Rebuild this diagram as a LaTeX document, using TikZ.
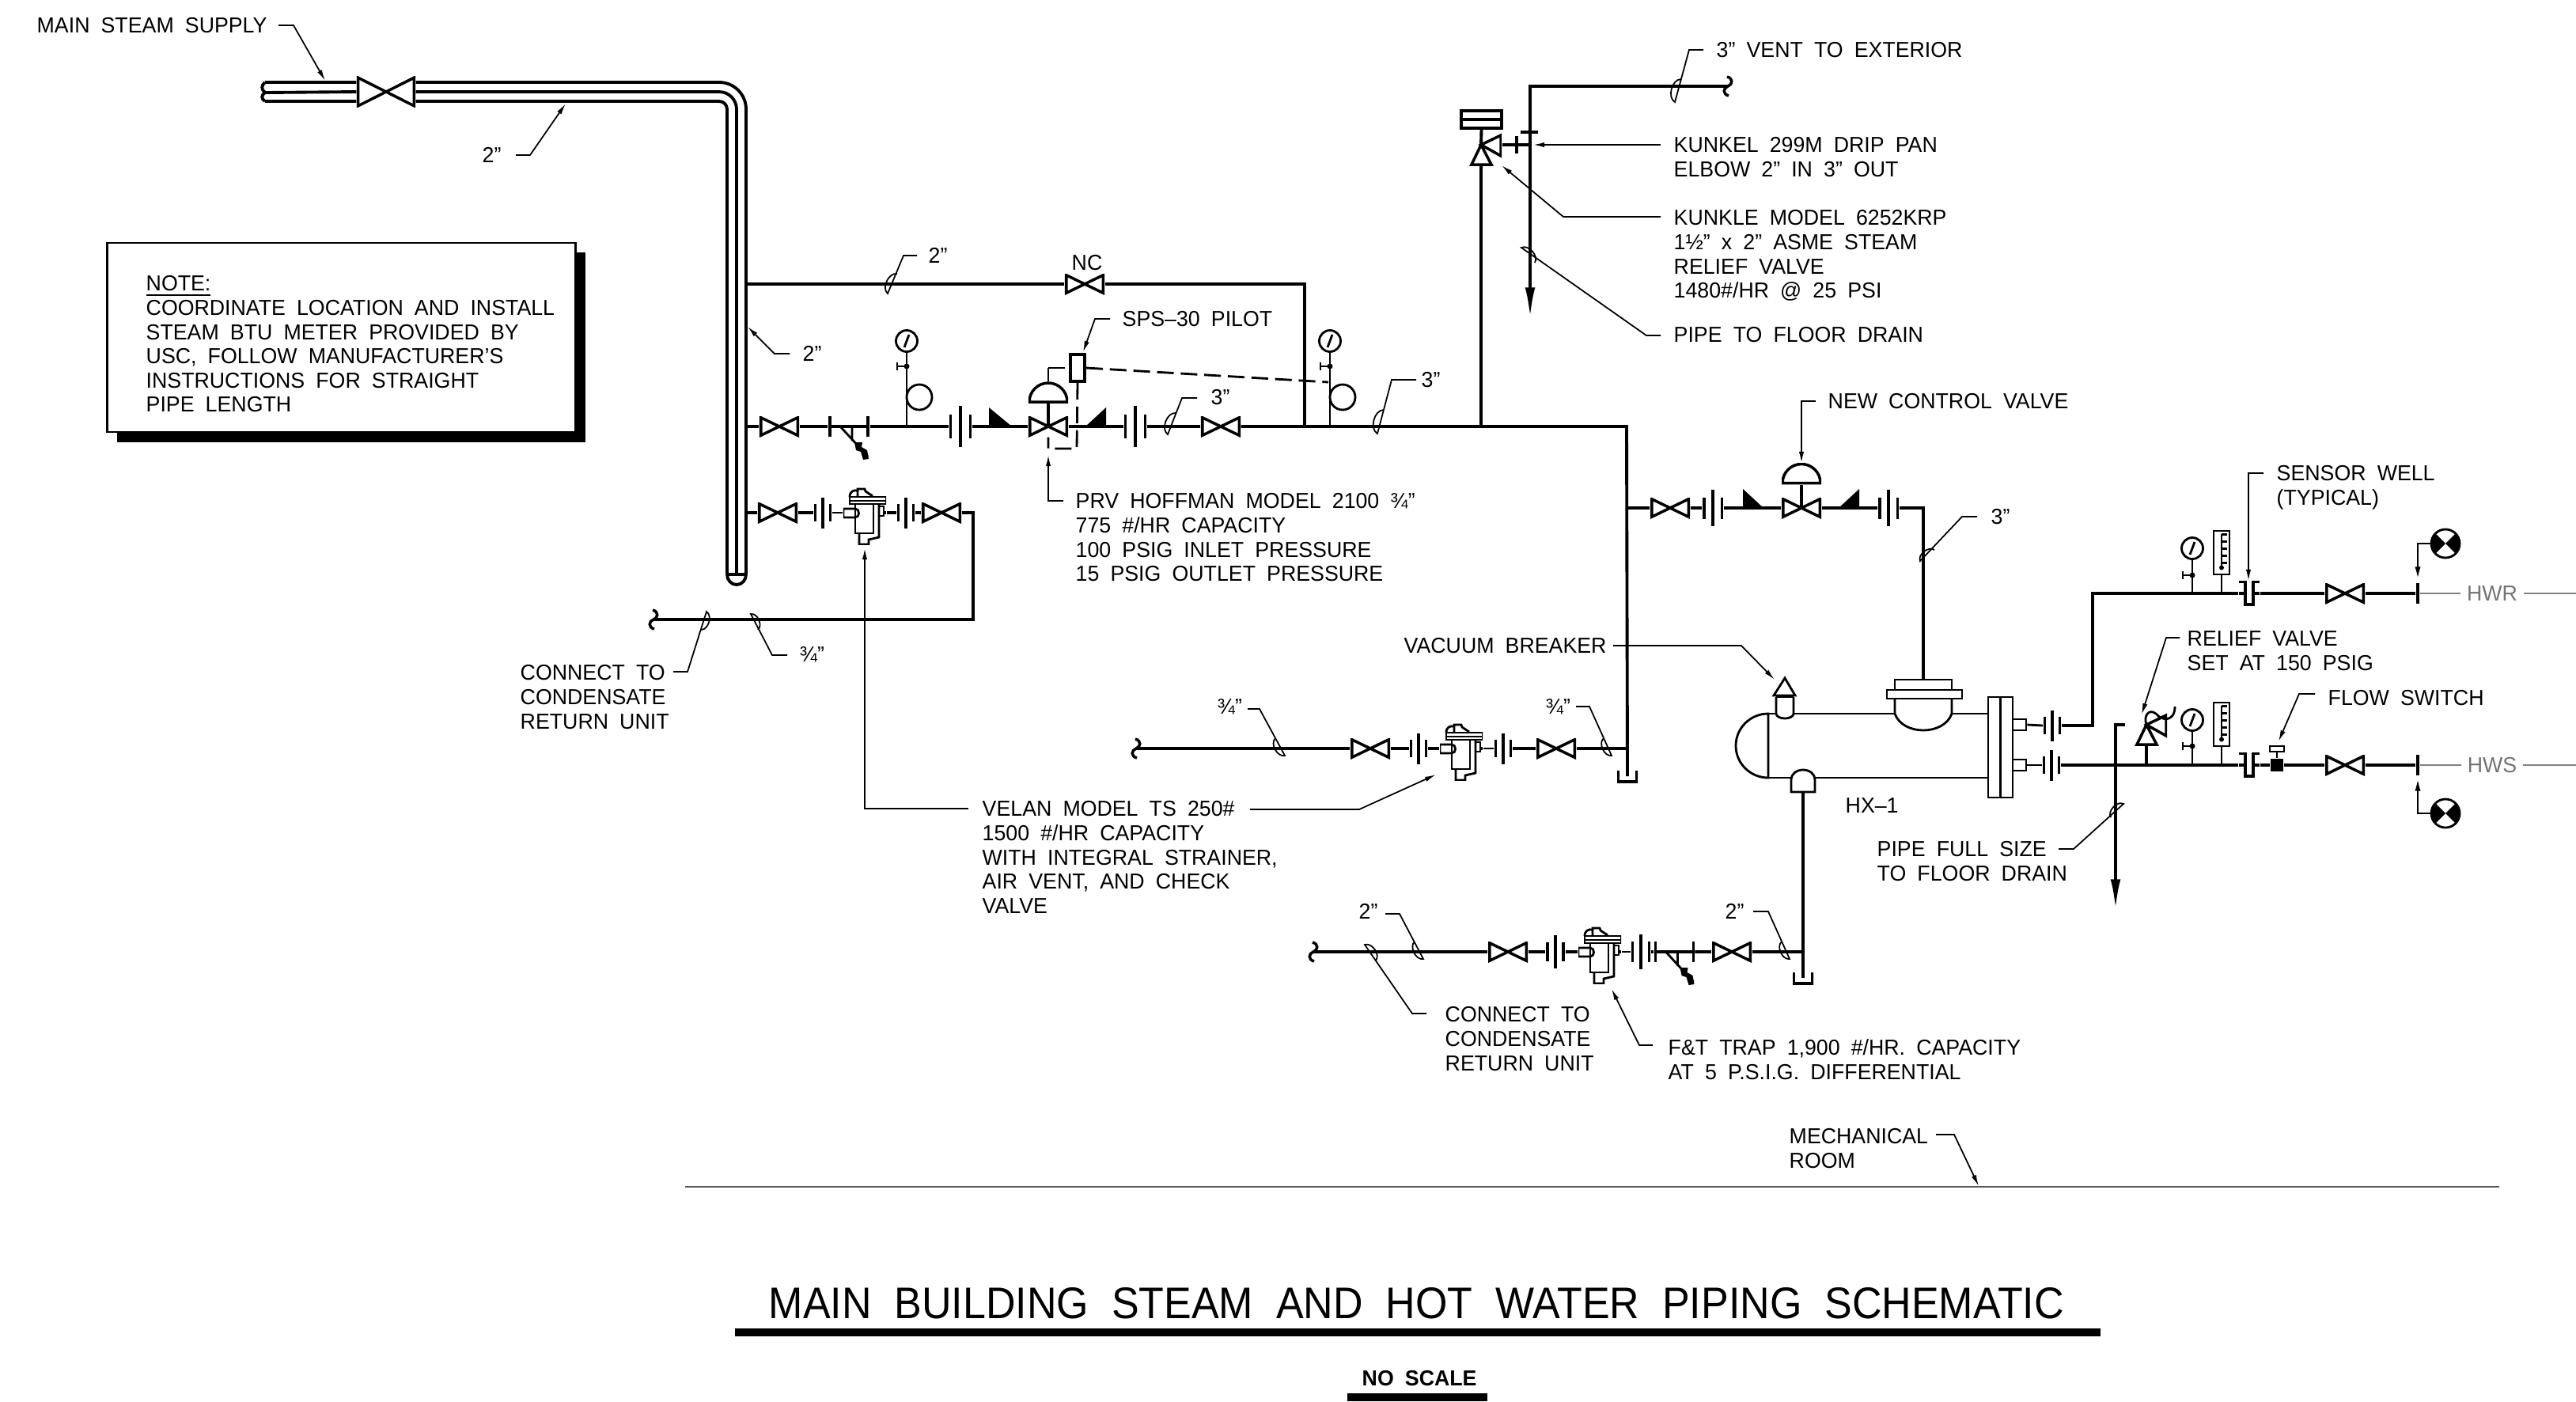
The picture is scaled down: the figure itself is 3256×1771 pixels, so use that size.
\documentclass[tikz,border=0pt]{standalone}
\usepackage{fontspec}
\setmainfont[FakeStretch=.975,WordSpace=1.9]{Liberation Sans}
\newfontfamily\titlefont[FakeStretch=.93,WordSpace=2]{Liberation Sans}
\usetikzlibrary{arrows.meta}
\tikzstyle{pipe}=[line width=1.1pt, line join=miter]
\tikzstyle{stem}=[line width=.8pt]
\tikzstyle{leader}=[line width=.5pt]
\tikzstyle{leadarrow}=[leader, -{Latex[length=4pt,width=1.8pt]}]
\tikzstyle{drain}=[pipe, -{Latex[length=11pt,width=3.6pt]}]
\tikzstyle{ctrl}=[stem, dash pattern=on 6pt off 2.5pt]
\tikzstyle{grayline}=[line width=.6pt, black!50]
\tikzstyle{lbl}=[anchor=north west, inner sep=0, align=left, font=\fontsize{7.8pt}{8.7pt}\selectfont]
\tikzstyle{valve}=[rectangle, inner sep=0, minimum width=.5cm, minimum height=.26cm,
    path picture={
        \draw[line width=1pt]
        ([shift={(.5pt,.5pt)}]path picture bounding box.south west) --
        ([shift={(-.5pt,-.5pt)}]path picture bounding box.north east) --
        ([shift={(-.5pt,.5pt)}]path picture bounding box.south east) --
        ([shift={(.5pt,-.5pt)}]path picture bounding box.north west) -- cycle;
    }
]
\tikzstyle{union}[1]=[rectangle, inner sep=0, minimum width=(25*#1+4)*.01cm, minimum height=52*#1*.01cm,
    path picture={
        \draw[line width=1pt, shift={(path picture bounding box.center)}]
        (-12.5*#1,-15*#1) -- (-12.5*#1,15*#1) (0,-26*#1) -- (0,26*#1) (12.5*#1,-15*#1) -- (12.5*#1,15*#1);
    }
]
\tikzstyle{trap}[1]=[rectangle, inner sep=0, minimum width=.54cm, minimum height=.8cm,
    path picture={
        \begin{scope}[line width=.8pt, shift={(path picture bounding box.center)}, xscale=#1]
        \draw (-27,-5) -- (-12,-5) .. controls (-6,-5) and (-6,6) .. (-12,6) -- (-27,6) -- cycle;
        \draw (-12,-11) -- (-12,26) -- (11,26) -- (11,-11);
        \draw (18,-11) -- (18,31) -- (5,34) -- (5,40) -- (-7,40) -- (-7,27);
        \draw (18,-8) -- (24,-8) -- (24,4) -- (18,4);
        \draw (-19,-20) rectangle (27,-11) (-19,-15) -- (27,-15);
        \draw (-19,-20) .. controls (-19,-27) and (-14,-29) .. (-9,-28) -- (-9,-20);
        \draw (-9,-28) -- (-9,-30) -- (0,-30) -- (1,-27) -- (10,-21);
        \draw[line width=1.1pt] (24,0) -- (27,0);
        \end{scope}
    }
]
\tikzstyle{strainer}[1]=[rectangle, inner sep=0, minimum width=.52cm, minimum height=.9cm,
    path picture={
        \begin{scope}[shift={(path picture bounding box.center)}, xscale=#1]
        \draw[line width=1pt] (-24,-13) -- (-24,13) (24,-13) -- (24,13);
        \draw[line width=1.1pt] (-26,0) -- (26,0);
        \draw[line width=.8pt] (-11,0) -- (24,38) (4,0) -- (4,18);
        \fill (7,20) -- (17,20) -- (16,26) -- (23,30) -- (25,41) -- (18,42) -- (15,32) -- (9,30) -- cycle;
        \end{scope}
    }
]
\tikzstyle{relief}[1]=[rectangle, inner sep=0, minimum width=.52cm, minimum height=.52cm,
    path picture={
        \draw[line width=1pt, line join=miter, shift={(path picture bounding box.center)}, xscale=#1]
        (0,0) -- (25,-12) -- (25,14) -- cycle (0,0) -- (-12,25) -- (13,25) -- cycle;
    }
]
\tikzstyle{dome}=[rectangle, inner sep=0, minimum width=.5cm, minimum height=.27cm,
    path picture={
        \draw[line width=1pt, shift={(path picture bounding box.center)}]
        (-24,12) arc (180:360:24) -- cycle;
    }
]
\tikzstyle{dial}=[circle, draw, stem, inner sep=0, minimum size=.27cm,
    path picture={
        \draw[line width=.8pt, shift={(path picture bounding box.center)}] (-3,8) -- (3,-8);
    }
]
\tikzstyle{cock}=[rectangle, inner sep=0, minimum width=.28cm, minimum height=.14cm,
    path picture={
        \draw[line width=.8pt, shift={(path picture bounding box.center)}] (-12,0) -- (0,0) (-12,-5) -- (-12,5);
        \fill[shift={(path picture bounding box.center)}] (0,0) circle (3.5);
    }
]
\tikzstyle{siphon}=[circle, draw, stem, inner sep=0, minimum size=.32cm]
\tikzstyle{thermo}=[rectangle, draw, stem, inner sep=0, minimum width=.2cm, minimum height=.55cm,
    path picture={
        \begin{scope}[line width=.7pt, shift={(path picture bounding box.center)}]
        \draw (0,-24) -- (0,17) (0,-23) -- (7,-23) (0,-14) -- (7,-14) (0,-5) -- (7,-5) (0,4) -- (7,4) (0,13) -- (7,13);
        \fill (0,19) circle (3);
        \end{scope}
    }
]
\tikzstyle{well}=[rectangle, inner sep=0, minimum width=.26cm, minimum height=.32cm,
    path picture={
        \draw[line width=1pt, shift={(path picture bounding box.center)}]
        (-13,-15) -- (-5,-15) -- (-5,14) -- (5,14) -- (5,-15) -- (13,-15)
        (-13,0) -- (-5,0) (5,0) -- (13,0);
    }
]
\tikzstyle{funnel}=[rectangle, inner sep=0, minimum width=.26cm, minimum height=.16cm,
    path picture={
        \draw[line width=1pt, shift={(path picture bounding box.center)}] (-12,-7) -- (-12,7) -- (12,7) -- (12,-7);
    }
]
\tikzstyle{pipebreak}=[rectangle, inner sep=0, minimum width=.18cm, minimum height=.28cm,
    path picture={
        \draw[line width=1pt, shift={(path picture bounding box.center)}]
        (-1,-12) .. controls (7,-10) and (6,-2) .. (0,0) .. controls (-6,2) and (-7,10) .. (1,12);
    }
]
\tikzstyle{balance}=[circle, draw, stem, inner sep=0, minimum size=.36cm,
    path picture={
        \fill[shift={(path picture bounding box.center)}] (0,0) -- (-18,-18) -- (-18,18) -- cycle (0,0) -- (18,-18) -- (18,18) -- cycle;
    }
]
\tikzstyle{endbar}=[rectangle, fill, inner sep=0, minimum width=.04cm, minimum height=.26cm]
\begin{document}
\begin{tikzpicture}[x=.01cm, y=-.01cm]
\useasboundingbox (0,0) rectangle (3256,1771);
\node[valve, minimum width=.74cm, minimum height=.39cm] (v0) at (488,116){};
\draw[pipe](335,104) .. controls (330,108) and (330,113) .. (335,117) .. controls (330,120) and (330,125) .. (335,128);
\draw[pipe](335,104) -- (v0.west |- 335,104) (335,117) -- (v0.west) (335,128) -- (v0.west |- 335,128);
\draw[pipe](v0.east |- 335,104) -- (909,104) arc (270:360:34) -- (943,726);
\draw[pipe](v0.east) -- (909,116) arc (270:360:22) -- (931,726);
\draw[pipe](v0.east |- 335,128) -- (909,128) arc (270:360:10) -- (919,726);
\draw[pipe](919,726) -- (943,726);
\draw[pipe](919,726) arc (180:0:12 and 13);
\coordinate (j0) at (943,359);
\coordinate (j1) at (943,539);
\coordinate (j2) at (943,648);
\node[valve] (v1) at (1371,359){};
\coordinate (j3) at (1649,359);
\coordinate (j4) at (1649,539);
\draw[pipe](j0) -- (v1.west);
\draw[pipe](v1.east) -- (j3) -- (j4);
\node[valve] (v2) at (985,539){};
\node[strainer=1] (st0) at (1073,539){};
\node[union=1] (u0) at (1214,539){};
\node[valve] (v3) at (1325,539){};
\node[union=1] (u1) at (1435,539){};
\node[valve] (v4) at (1543,539){};
\coordinate (j5) at (1872,539);
\coordinate (j6) at (2056,539);
\node[funnel] (f0) at (2057,981){};
\draw[pipe](j1) -- (v2.west);
\draw[pipe](v2.east) -- (st0.west);
\draw[pipe](st0.east) -- (u0.west);
\draw[pipe](u0.east) -- (v3.west);
\draw[pipe](v3.east) -- (u1.west);
\draw[pipe](u1.east) -- (v4.west);
\draw[pipe](v4.east) -- (j6) -- (f0.center);
\fill (1250,515) -- (1250,539) -- (1279,539) -- cycle;
\fill (1398,515) -- (1398,539) -- (1372,539) -- cycle;
\node[dial] (g0) at (1146,431){};
\node[cock] (c0) at (1146,463){};
\node[siphon] (s0) at (1162,502){};
\draw[stem](g0) -- (g0 |- v2);
\node[dial] (g1) at (1681,431){};
\node[cock] (c1) at (1681,463){};
\node[siphon] (s1) at (1697,502){};
\draw[stem](g1) -- (g1 |- v2);
\node[dome] (d0) at (1325,496){};
\draw[pipe](v3.center) -- (d0.south);
\node[rectangle, draw, pipe, inner sep=0, minimum width=.18cm, minimum height=.34cm] (p0) at (1362,465){};
\coordinate (k0) at (1325,465);
\coordinate (k1) at (1679,483);
\coordinate (k2) at (1361,567);
\coordinate (k3) at (1325,567);
\draw[stem](d0.north) -- (k0);
\draw[ctrl](k0) -- (p0.west);
\draw[ctrl](p0.east) -- (k1);
\draw[ctrl](p0.south) -- (k2) -- (k3) -- (v3.south);
\node[relief=1] (rv0) at (1872,183){};
\node[rectangle, draw, pipe, inner sep=0, minimum width=.51cm, minimum height=.22cm] (dc0) at (1872.5,151){};
\draw[pipe](dc0.west) -- (dc0.east);
\draw[pipe](dc0.south) -- (rv0.center);
\draw[pipe](j5) -- (rv0.south);
\node[endbar, minimum height=.22cm] (e2) at (1917,183){};
\coordinate (j8) at (1934,183);
\draw[pipe](rv0.east) -- (j8);
\node[pipebreak] (b0) at (2184,109){};
\coordinate (j9) at (1934,109);
\coordinate (j10) at (1934,402);
\draw[drain](b0.center) -- (j9) -- (j10);
\node[endbar, minimum width=.22cm, minimum height=.04cm] (e3) at (1933,167){};
\node[valve] (v5) at (983,648){};
\node[union=.75] (u2) at (1040,648){};
\node[trap=1] (t0) at (1093,648){};
\node[union=.75] (u3) at (1145,648){};
\node[valve] (v6) at (1190,648){};
\coordinate (j11) at (1230,648);
\coordinate (j12) at (1230,783);
\node[pipebreak] (b1) at (826,783){};
\draw[pipe](j2) -- (v5.west);
\draw[pipe](v5.east) -- (u2.west);
\draw[stem](u2.east) -- (t0.west);
\draw[pipe](t0.east) -- (u3.west);
\draw[pipe](u3.east) -- (v6.west);
\draw[pipe](v6.east) -- (j11) -- (j12) -- (b1.center);
\node[pipebreak] (b2) at (1436,946){};
\node[valve] (v7) at (1732,946){};
\node[union=.75] (u4) at (1793,946){};
\node[trap=-1] (t1) at (1847,946){};
\node[union=.75] (u5) at (1900,946){};
\node[valve] (v8) at (1967,946){};
\coordinate (j13) at (2056,946);
\draw[pipe](b2.center) -- (v7.west);
\draw[pipe](v7.east) -- (u4.west);
\draw[pipe](u4.east) -- (t1.west);
\draw[stem](t1.east) -- (u5.west);
\draw[pipe](u5.east) -- (v8.west);
\draw[pipe](v8.east) -- (j13);
\coordinate (j14) at (2056,642);
\node[valve] (v9) at (2111,642){};
\node[union=.9] (u6) at (2165,642){};
\node[valve] (v10) at (2277,642){};
\node[union=.9] (u7) at (2387,642){};
\coordinate (j15) at (2431,642);
\coordinate (j16) at (2431,859);
\draw[pipe](j14) -- (v9.west);
\draw[pipe](v9.east) -- (u6.west);
\draw[pipe](u6.east) -- (v10.west);
\draw[pipe](v10.east) -- (u7.west);
\draw[pipe](u7.east) -- (j15) -- (j16);
\fill (2203,618) -- (2203,642) -- (2229,642) -- cycle;
\fill (2350,618) -- (2350,642) -- (2324,642) -- cycle;
\node[dome, minimum height=.27cm] (d1) at (2277,598.5){};
\draw[pipe](v10.center) -- (d1.south);
\node[pipebreak] (b3) at (1660,1203){};
\node[valve] (v11) at (1906,1203){};
\node[union=.8] (u8) at (1966,1203){};
\node[trap=-1] (t2) at (2022,1203){};
\node[union=.85] (u9) at (2074,1203){};
\node[strainer=-1] (st1) at (2116.5,1203){};
\node[valve] (v12) at (2189,1203){};
\coordinate (j17) at (2279,1203);
\coordinate (j18) at (2279,1001);
\node[funnel] (f1) at (2279,1236){};
\draw[pipe](b3.center) -- (v11.west);
\draw[pipe](v11.east) -- (u8.west);
\draw[pipe](u8.east) -- (t2.west);
\draw[stem](t2.east) -- (u9.west);
\draw[pipe](u9.east) -- (st1.west);
\draw[pipe](st1.east) -- (v12.west);
\draw[pipe](v12.east) -- (j17);
\draw[pipe](j18) -- (f1.center);
\draw[stem](2235,902) arc (270:90:41 and 40.5) -- cycle;
\draw[stem](2235,902) -- (2245,902) (2267,902) -- (2395,902) (2467,902) -- (2513,902);
\draw[stem](2235,983) -- (2264,983) (2294,983) -- (2513,983);
\draw[stem](2245,881) -- (2245,902) arc (180:0:11 and 6) -- (2267,881);
\draw[stem](2256,857) -- (2242,879) -- (2269,879) -- cycle;
\draw[pipe](2245,880) -- (2267,880);
\node[rectangle, draw, stem, inner sep=0, minimum width=.72cm, minimum height=.13cm] (hx0) at (2431,865.5){};
\node[rectangle, draw, stem, inner sep=0, minimum width=.95cm, minimum height=.11cm] (hx1) at (2432.5,877.5){};
\draw[stem](2395,883) -- (2395,902) .. controls (2405,930) and (2457,930) .. (2467,902) -- (2467,883);
\draw[stem](2264,985) arc (180:360:15 and 12) -- (2294,1001) -- (2264,1001) -- cycle;
\node[rectangle, draw, stem, inner sep=0, minimum width=.31cm, minimum height=1.27cm] (fl) at (2528.5,944.5){};
\draw[stem](fl.north) -- (fl.south);
\node[rectangle, draw, stem, inner sep=0, minimum width=.17cm, minimum height=.14cm] (sb0) at (2552.5,916){};
\node[rectangle, draw, stem, inner sep=0, minimum width=.17cm, minimum height=.14cm] (sb1) at (2552.5,967){};
\node[union=.75] (u10) at (2594,917){};
\node[union=.75] (u11) at (2593,967){};
\draw[stem](sb0.east) -- (u10.west);
\draw[stem](sb1.east) -- (u11.west);
\coordinate (j19) at (2645,917);
\coordinate (j20) at (2645,750);
\node[well] (w0) at (2843,750){};
\node[valve] (v13) at (2964,750){};
\node[endbar] (e0) at (3056,750){};
\draw[pipe](u10.east) -- (j19) -- (j20) -- (w0.west);
\draw[pipe](w0.east) -- (v13.west);
\draw[pipe](v13.east) -- (e0);
\node[well] (w1) at (2843,967){};
\node[rectangle, fill, inner sep=0, minimum width=.16cm, minimum height=.16cm] (fs0) at (2878,967){};
\node[rectangle, draw, stem, inner sep=0, minimum width=.18cm, minimum height=.07cm] (fs1) at (2878,946.5){};
\node[valve] (v14) at (2964,967){};
\node[endbar] (e1) at (3056,967){};
\draw[pipe](u11.east) -- (w1.west);
\draw[pipe](w1.east) -- (fs0.west);
\draw[pipe](fs0.east) -- (v14.west);
\draw[pipe](v14.east) -- (e1);
\draw[stem](fs1) -- (fs0);
\node[relief=-1] (rv1) at (2713,916){};
\coordinate (j21) at (2674,916);
\coordinate (j22) at (2674,1150);
\draw[pipe](rv1.south) -- (rv1.south |- e1);
\draw[drain](rv1.west) -- (j21) -- (j22);
\draw[stem](rv1.center) .. controls (2709,905) and (2716,895) .. (2725,902) .. controls (2733,912) and (2749,912) .. (2749,893);
\node[dial] (g2) at (2771,693){};
\node[cock] (c2) at (2771,727){};
\node[thermo] (m0) at (2808,698.5){};
\draw[stem](g2) -- (g2 |- e0);
\draw[stem](m0) -- (m0 |- e0);
\node[dial] (g3) at (2771,910){};
\node[cock] (c3) at (2771,943){};
\node[thermo] (m1) at (2808,915.5){};
\draw[stem](g3) -- (g3 |- e1);
\draw[stem](m1) -- (m1 |- e1);
\node[balance] (bv0) at (3091,687){};
\node[balance] (bv1) at (3091,1028){};
\coordinate (k4) at (3056,687);
\coordinate (k5) at (3056,734);
\coordinate (k6) at (3056,1028);
\coordinate (k7) at (3056,982);
\draw[stem, -{Latex[length=5pt,width=2pt]}](bv0.west) -- (k4) -- (k5);
\draw[stem, -{Latex[length=5pt,width=2pt]}](bv1.west) -- (k6) -- (k7);
\node[lbl, anchor=center, black!55] (hwr) at (3150,750){HWR};
\node[lbl, anchor=center, black!55] (hws) at (3150,967){HWS};
\coordinate (r0) at (3256,750);
\coordinate (r1) at (3256,967);
\draw[grayline](e0) -- ([xshift=-2pt]hwr.west);
\draw[grayline]([xshift=2pt]hwr.east) -- (r0);
\draw[grayline](e1) -- ([xshift=-2pt]hws.west);
\draw[grayline]([xshift=2pt]hws.east) -- (r1);
\node[rectangle, fill, inner sep=0, minimum width=5.92cm, minimum height=2.4cm] (ns) at (444,439){};
\node[rectangle, draw, stem, fill=white, inner sep=0, minimum width=5.91cm, minimum height=2.39cm] (nb) at (431.5,426.5){};
\node[lbl] (txt0) at (184,348){\underline{NOTE:}\\COORDINATE LOCATION AND INSTALL\\STEAM BTU METER PROVIDED BY\\USC, FOLLOW MANUFACTURER’S\\INSTRUCTIONS FOR STRAIGHT\\PIPE LENGTH};
\node[lbl] (txt1) at (46,22){MAIN STEAM SUPPLY};
\node[lbl] (txt2) at (609,186){2”};
\node[lbl] (txt3) at (1173,313){2”};
\node[lbl] (txt4) at (1354,322){NC};
\node[lbl] (txt5) at (1014,437){2”};
\node[lbl] (txt6) at (1418,393){SPS--30 PILOT};
\node[lbl] (txt7) at (1530,492){3”};
\node[lbl] (txt8) at (1796,470){3”};
\node[lbl] (txt9) at (1359,623){PRV HOFFMAN MODEL 2100 ¾”\\775 \#/HR CAPACITY\\100 PSIG INLET PRESSURE\\15 PSIG OUTLET PRESSURE};
\node[lbl] (txt10) at (2169,53){3” VENT TO EXTERIOR};
\node[lbl] (txt11) at (2115,173){KUNKEL 299M DRIP PAN\\ELBOW 2” IN 3” OUT};
\node[lbl] (txt12) at (2115,265){KUNKLE MODEL 6252KRP\\1½” x 2” ASME STEAM\\RELIEF VALVE\\1480\#/HR @ 25 PSI};
\node[lbl] (txt13) at (2115,413){PIPE TO FLOOR DRAIN};
\node[lbl] (txt14) at (2310,497){NEW CONTROL VALVE};
\node[lbl] (txt15) at (2516,643){3”};
\node[lbl] (txt16) at (2877,588){SENSOR WELL\\(TYPICAL)};
\node[lbl] (txt17) at (2764,797){RELIEF VALVE\\SET AT 150 PSIG};
\node[lbl] (txt18) at (2942,872){FLOW SWITCH};
\node[lbl] (txt19) at (1774,806){VACUUM BREAKER};
\node[lbl] (txt20) at (2332,1008){HX--1};
\node[lbl] (txt21) at (2372,1063){PIPE FULL SIZE\\TO FLOOR DRAIN};
\node[lbl] (txt22) at (1010,817){¾”};
\node[lbl] (txt23) at (657,840){CONNECT TO\\CONDENSATE\\RETURN UNIT};
\node[lbl] (txt24) at (1241,1012){VELAN MODEL TS 250\#\\1500 \#/HR CAPACITY\\WITH INTEGRAL STRAINER,\\AIR VENT, AND CHECK\\VALVE};
\node[lbl] (txt25) at (1538,883){¾”};
\node[lbl] (txt26) at (1953,883){¾”};
\node[lbl] (txt27) at (1717,1142){2”};
\node[lbl] (txt28) at (2180,1142){2”};
\node[lbl] (txt29) at (1826,1272){CONNECT TO\\CONDENSATE\\RETURN UNIT};
\node[lbl] (txt30) at (2108,1313){F\&T TRAP 1,900 \#/HR. CAPACITY\\AT 5 P.S.I.G. DIFFERENTIAL};
\node[lbl] (txt31) at (2261,1426){MECHANICAL\\ROOM};
\node[lbl, font=\fontsize{15.9pt}{17pt}\titlefont] (txt32) at (971,1627){MAIN BUILDING STEAM AND HOT WATER PIPING SCHEMATIC};
\node[lbl, font=\fontsize{7.8pt}{9pt}\bfseries] (txt33) at (1721,1732){NO SCALE};
\node[rectangle, fill, inner sep=0, minimum width=17.25cm, minimum height=.1cm] (bar0) at (1791.5,1684){};
\node[rectangle, fill, inner sep=0, minimum width=1.77cm, minimum height=.1cm] (bar1) at (1791.5,1766){};
\coordinate (m0a) at (866,1500);
\coordinate (m0b) at (3159,1500);
\draw[line width=.6pt, black!65](m0a) -- (m0b);
\coordinate (a0) at (352,32); \coordinate (a1) at (371,32); \coordinate (a2) at (411,102);
\draw[leadarrow](a0) -- (a1) -- (a2);
\coordinate (a3) at (652,196); \coordinate (a4) at (670,196); \coordinate (a5) at (715,131);
\draw[leadarrow](a3) -- (a4) -- (a5);
\coordinate (a6) at (998,447); \coordinate (a7) at (979,447); \coordinate (a8) at (945,413);
\draw[leadarrow](a6) -- (a7) -- (a8);
\coordinate (a9) at (2099,183); \coordinate (a10) at (1938,183);
\draw[leadarrow](a9) -- (a10);
\coordinate (a11) at (2099,274); \coordinate (a12) at (1976,274); \coordinate (a13) at (1898,209);
\draw[leadarrow](a11) -- (a12) -- (a13);
\coordinate (a14) at (1403,403); \coordinate (a15) at (1384,403); \coordinate (a16) at (1369,445);
\draw[leadarrow](a14) -- (a15) -- (a16);
\coordinate (a17) at (1344,633); \coordinate (a18) at (1325,633); \coordinate (a19) at (1325,575);
\draw[leadarrow](a17) -- (a18) -- (a19);
\coordinate (a20) at (2295,507); \coordinate (a21) at (2277,507); \coordinate (a22) at (2277,585);
\draw[leadarrow](a20) -- (a21) -- (a22);
\coordinate (a23) at (1224,1022); \coordinate (a24) at (1093,1022); \coordinate (a25) at (1093,693);
\draw[leadarrow](a23) -- (a24) -- (a25);
\coordinate (a26) at (1580,1023); \coordinate (a27) at (1718,1023); \coordinate (a28) at (1815,979);
\draw[leadarrow](a26) -- (a27) -- (a28);
\coordinate (a29) at (2039,816); \coordinate (a30) at (2201,816); \coordinate (a31) at (2243,859);
\draw[leadarrow](a29) -- (a30) -- (a31);
\coordinate (a32) at (2861,598); \coordinate (a33) at (2842,598); \coordinate (a34) at (2842,734);
\draw[leadarrow](a32) -- (a33) -- (a34);
\coordinate (a35) at (2755,806); \coordinate (a36) at (2738,806); \coordinate (a37) at (2707,903);
\draw[leadarrow](a35) -- (a36) -- (a37);
\coordinate (a38) at (2926,877); \coordinate (a39) at (2906,877); \coordinate (a40) at (2880,937);
\draw[leadarrow](a38) -- (a39) -- (a40);
\coordinate (a41) at (2089,1321); \coordinate (a42) at (2072,1321); \coordinate (a43) at (2037,1250);
\draw[leadarrow](a41) -- (a42) -- (a43);
\coordinate (a44) at (2447,1434); \coordinate (a45) at (2470,1434); \coordinate (a46) at (2501,1499);
\draw[leadarrow](a44) -- (a45) -- (a46);
\coordinate (l0) at (1159,323); \coordinate (l1) at (1142,323); \coordinate (l2) at (1122,371); \coordinate (l3) at (1134,346);
\draw[leader](l0) -- (l1) -- (l2) to[bend left=75] (l3);
\coordinate (l4) at (1513,503); \coordinate (l5) at (1494,503); \coordinate (l6) at (1476,549); \coordinate (l7) at (1486,522);
\draw[leader](l4) -- (l5) -- (l6) to[bend left=75] (l7);
\coordinate (l8) at (1790,480); \coordinate (l9) at (1759,480); \coordinate (l10) at (1741,548); \coordinate (l11) at (1749,518);
\draw[leader](l8) -- (l9) -- (l10) to[bend left=75] (l11);
\coordinate (l12) at (2153,63); \coordinate (l13) at (2135,63); \coordinate (l14) at (2117,129); \coordinate (l15) at (2125,100);
\draw[leader](l12) -- (l13) -- (l14) to[bend left=75] (l15);
\coordinate (l16) at (2099,424); \coordinate (l17) at (2081,424); \coordinate (l18) at (1923,313); \coordinate (l19) at (1940,332);
\draw[leader](l16) -- (l17) -- (l18) to[bend left=75] (l19);
\coordinate (l20) at (2499,653); \coordinate (l21) at (2480,653); \coordinate (l22) at (2427,709); \coordinate (l23) at (2445,695);
\draw[leader](l20) -- (l21) -- (l22) to[bend left=75] (l23);
\coordinate (l24) at (851,849); \coordinate (l25) at (869,849); \coordinate (l26) at (893,773); \coordinate (l27) at (886,796);
\draw[leader](l24) -- (l25) -- (l26) to[bend left=75] (l27);
\coordinate (l28) at (995,828); \coordinate (l29) at (976,828); \coordinate (l30) at (949,776); \coordinate (l31) at (958,796);
\draw[leader](l28) -- (l29) -- (l30) to[bend left=75] (l31);
\coordinate (l32) at (1577,896); \coordinate (l33) at (1592,896); \coordinate (l34) at (1624,955); \coordinate (l35) at (1612,933);
\draw[leader](l32) -- (l33) -- (l34) to[bend left=75] (l35);
\coordinate (l36) at (1992,893); \coordinate (l37) at (2009,893); \coordinate (l38) at (2037,955); \coordinate (l39) at (2027,933);
\draw[leader](l36) -- (l37) -- (l38) to[bend left=75] (l39);
\coordinate (l40) at (2602,1073); \coordinate (l41) at (2621,1073); \coordinate (l42) at (2684,1016); \coordinate (l43) at (2668,1033);
\draw[leader](l40) -- (l41) -- (l42) to[bend right=75] (l43);
\coordinate (l44) at (1803,1281); \coordinate (l45) at (1785,1281); \coordinate (l46) at (1725,1194); \coordinate (l47) at (1739,1214);
\draw[leader](l44) -- (l45) -- (l46) to[bend left=75] (l47);
\coordinate (l48) at (1751,1155); \coordinate (l49) at (1769,1155); \coordinate (l50) at (1799,1212); \coordinate (l51) at (1788,1190);
\draw[leader](l48) -- (l49) -- (l50) to[bend left=75] (l51);
\coordinate (l52) at (2216,1152); \coordinate (l53) at (2235,1152); \coordinate (l54) at (2262,1212); \coordinate (l55) at (2252,1190);
\draw[leader](l52) -- (l53) -- (l54) to[bend left=75] (l55);
\end{tikzpicture}
\end{document}
